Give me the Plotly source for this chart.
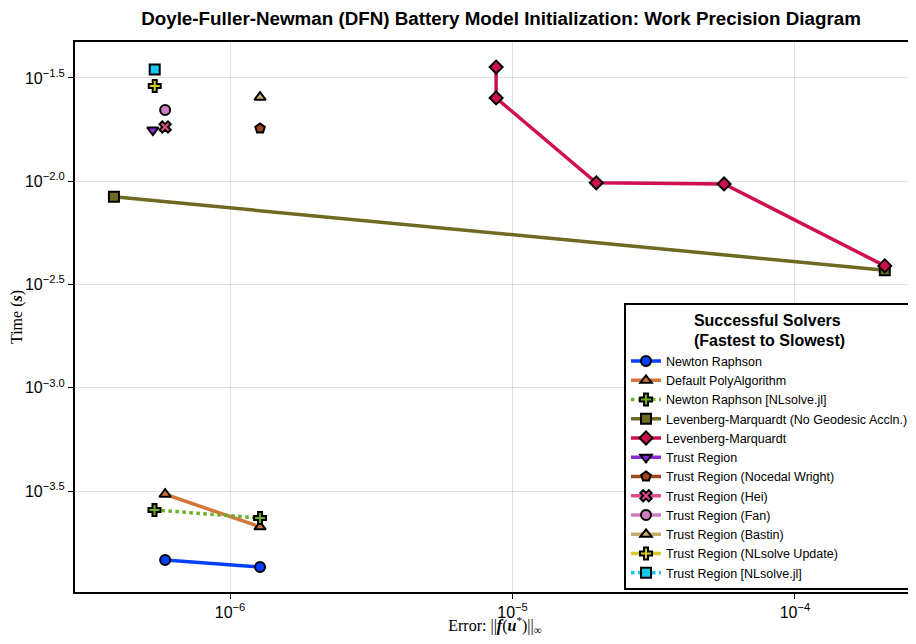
import plotly.graph_objects as go

# error (x) / time (y) per solver
NAMES = [
    "Newton Raphson",
    "Default PolyAlgorithm",
    "Newton Raphson [NLsolve.jl]",
    "Levenberg-Marquardt (No Geodesic Accln.)",
    "Levenberg-Marquardt",
    "Trust Region",
    "Trust Region (Nocedal Wright)",
    "Trust Region (Hei)",
    "Trust Region (Fan)",
    "Trust Region (Bastin)",
    "Trust Region (NLsolve Update)",
    "Trust Region [NLsolve.jl]",
]

ERRORS = [
    [5.89e-7, 1.277e-6],
    [5.89e-7, 1.277e-6],
    [5.40e-7, 1.277e-6],
    [3.88e-7, 2.08e-4],
    [8.75e-6, 8.75e-6, 1.98e-5, 5.61e-5, 2.08e-4],
    [5.33e-7],
    [1.277e-6],
    [5.89e-7],
    [5.89e-7],
    [1.277e-6],
    [5.41e-7],
    [5.41e-7],
]

TIMES = [
    [1.466e-4, 1.355e-4],
    [3.05e-4, 2.12e-4],
    [2.56e-4, 2.34e-4],
    [8.40e-3, 3.71e-3],
    [0.0357, 0.0253, 9.82e-3, 9.70e-3, 3.89e-3],
    [0.0177],
    [0.0180],
    [0.0183],
    [0.0221],
    [0.0255],
    [0.0289],
    [0.0347],
]

COLORS = [
    "#0340FF", "#D2773A", "#6BB02B", "#6E6A22", "#D0104C", "#8B2BD6",
    "#A0461B", "#E04C8C", "#CC7FBF", "#C9AD6E", "#D8C92A", "#14C8F0",
]
SYMBOLS = [
    "circle", "triangle-up", "cross", "square", "diamond", "triangle-down",
    "pentagon", "x", "circle", "triangle-up", "cross", "square",
]
DASHES = ["solid", "solid", "dot", "solid", "solid", "solid",
          "solid", "solid", "solid", "solid", "solid", "dot"]

X_TICKS = [1e-6, 1e-5, 1e-4]
X_LABELS = ["10<sup>−6</sup>", "10<sup>−5</sup>", "10<sup>−4</sup>"]
Y_EXP = [-1.5, -2.0, -2.5, -3.0, -3.5]

fig = go.Figure()
for name, xs, ys, col, sym, dash in zip(NAMES, ERRORS, TIMES, COLORS, SYMBOLS, DASHES):
    fig.add_trace(go.Scatter(
        x=xs, y=ys, name=name,
        mode="lines+markers",
        line=dict(color=col, width=3.5, dash=dash),
        marker=dict(symbol=sym, size=10, color=col,
                    line=dict(color="black", width=2)),
    ))

# the page body adds an 8px margin, so the figure is smaller than the window
fig.update_layout(
    width=908, height=628,
    template="plotly_white",
    paper_bgcolor="white",
    plot_bgcolor="white",
    font=dict(family="Liberation Sans, Arial, sans-serif", size=16, color="black"),
    margin=dict(l=67, r=1, t=34, b=44, autoexpand=False),
    title=dict(
        text="<b>Doyle-Fuller-Newman (DFN) Battery Model Initialization: Work Precision Diagram</b>",
        x=0.543, xanchor="center", y=1 - 10 / 628, yanchor="middle",
        font=dict(size=18.8),
    ),
    legend=dict(
        title=dict(text="<b>Successful Solvers<br>(Fastest to Slowest)</b>",
                   side="top center", font=dict(size=16)),
        x=1, xanchor="right", y=0.004, yanchor="bottom",
        bgcolor="white", bordercolor="black", borderwidth=2,
        font=dict(size=12.5),
        tracegroupgap=0,
    ),
)

fig.update_xaxes(
    type="log", range=[-6.549, -3.575],
    tickvals=X_TICKS, ticktext=X_LABELS,
    showgrid=True, gridcolor="rgba(0,0,0,0.12)", gridwidth=1,
    zeroline=False, automargin=False,
    showline=True, linecolor="black", linewidth=2, mirror=True,
    ticks="outside", ticklen=5, tickcolor="black",
    title=dict(
        text="Error: ||<b><i>f</i></b>(<b><i>u</i></b><sup>*</sup>)||<sub>∞</sub>",
        font=dict(family="Liberation Serif, DejaVu Serif, serif", size=16),
        standoff=4,
    ),
)
fig.update_yaxes(
    type="log", range=[-3.989, -1.326],
    tickvals=[10 ** e for e in Y_EXP],
    ticktext=[f"10<sup>−{abs(e):.1f}</sup>" for e in Y_EXP],
    showgrid=True, gridcolor="rgba(0,0,0,0.12)", gridwidth=1,
    zeroline=False, automargin=False,
    showline=True, linecolor="black", linewidth=2, mirror=True,
    ticks="outside", ticklen=5, tickcolor="black",
    title=dict(
        text="Time (<b><i>s</i></b>)",
        font=dict(family="Liberation Serif, DejaVu Serif, serif", size=16),
        standoff=8,
    ),
)

fig.write_html("out.html")
